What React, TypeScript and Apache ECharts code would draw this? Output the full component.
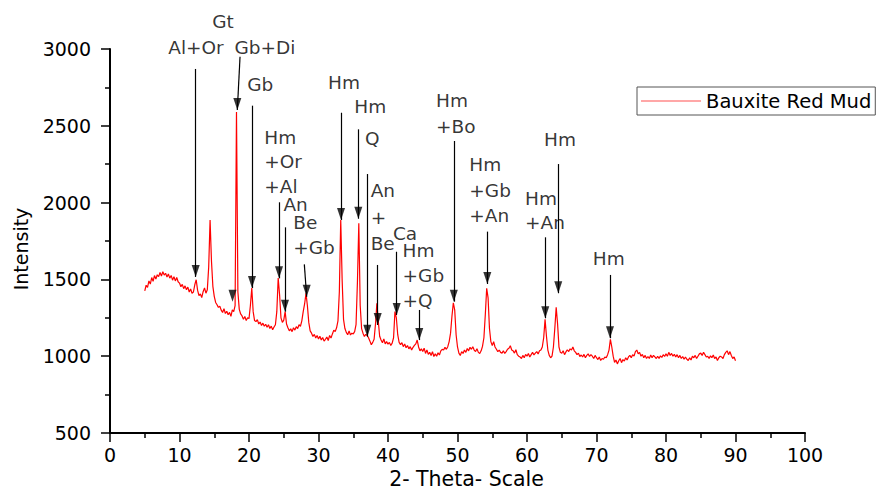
import React, { useEffect, useRef } from "react";
import * as echarts from "echarts";

// ---- data -----------------------------------------------------------
const seriesName = "Bauxite Red Mud";
const thetaStart = 5; // 2-theta of the first reading
const thetaStep = 0.2; // scan step
// one row per degree: readings at x.0, x.2, x.4, x.6, x.8
const intensityRows: number[][] = [
  [1425, 1462, 1448, 1490, 1470], // 5
  [1512, 1488, 1525, 1502, 1530], // 6
  [1518, 1545, 1522, 1550, 1528], // 7
  [1540, 1515, 1535, 1508, 1526], // 8
  [1495, 1518, 1490, 1512, 1485], // 9
  [1476, 1452, 1468, 1440, 1458], // 10
  [1432, 1450, 1418, 1438, 1410], // 11
  [1418, 1465, 1498, 1430, 1395], // 12
  [1405, 1382, 1420, 1445, 1410], // 13
  [1432, 1580, 1887, 1620, 1455], // 14
  [1390, 1350, 1335, 1318, 1325], // 15
  [1300, 1285, 1310, 1278, 1292], // 16
  [1270, 1285, 1260, 1302, 1290], // 17
  [1330, 2590, 1420, 1305, 1275], // 18
  [1262, 1240, 1258, 1232, 1250], // 19
  [1245, 1330, 1444, 1290, 1232], // 20
  [1225, 1238, 1210, 1222, 1200], // 21
  [1215, 1195, 1208, 1188, 1205], // 22
  [1180, 1196, 1172, 1190, 1205], // 23
  [1290, 1509, 1400, 1250, 1220], // 24
  [1235, 1290, 1210, 1185, 1165], // 25
  [1178, 1160, 1185, 1170, 1192], // 26
  [1180, 1205, 1195, 1230, 1290], // 27
  [1340, 1409, 1330, 1220, 1165], // 28
  [1150, 1128, 1142, 1118, 1135], // 29
  [1112, 1130, 1105, 1122, 1098], // 30
  [1110, 1125, 1102, 1135, 1118], // 31
  [1145, 1170, 1160, 1185, 1230], // 32
  [1420, 1887, 1500, 1240, 1180], // 33
  [1155, 1140, 1165, 1138, 1150], // 34
  [1145, 1160, 1205, 1480, 1865], // 35
  [1330, 1180, 1150, 1128, 1142], // 36
  [1135, 1120, 1098, 1075, 1090], // 37
  [1110, 1210, 1344, 1230, 1130], // 38
  [1105, 1088, 1112, 1080, 1095], // 39
  [1078, 1090, 1070, 1085, 1120], // 40
  [1290, 1250, 1140, 1090, 1075], // 41
  [1088, 1062, 1080, 1055, 1070], // 42
  [1048, 1062, 1040, 1058, 1070], // 43
  [1080, 1105, 1060, 1035, 1048], // 44
  [1030, 1052, 1018, 1040, 1012], // 45
  [1025, 1005, 1030, 998, 1015], // 46
  [1000, 1022, 1008, 1035, 1045], // 47
  [1040, 1058, 1045, 1062, 1095], // 48
  [1150, 1260, 1348, 1300, 1140], // 49
  [1060, 1020, 1005, 1030, 1018], // 50
  [1040, 1025, 1050, 1035, 1058], // 51
  [1045, 1062, 1040, 1030, 1048], // 52
  [1025, 1018, 1035, 1065, 1120], // 53
  [1270, 1442, 1380, 1180, 1095], // 54
  [1070, 1094, 1060, 1045, 1030], // 55
  [1040, 1025, 1020, 1035, 1018], // 56
  [1030, 1045, 1052, 1068, 1040], // 57
  [1035, 1020, 1042, 1010, 1000], // 58
  [995, 985, 1005, 990, 1012], // 59
  [1000, 1018, 995, 1010, 1025], // 60
  [1008, 1020, 1030, 1015, 1035], // 61
  [1040, 1060, 1120, 1240, 1130], // 62
  [1040, 1005, 990, 1000, 1060], // 63
  [1180, 1318, 1210, 1060, 1025], // 64
  [1019, 1035, 1010, 1028, 1042], // 65
  [1030, 1048, 1040, 1060, 1035], // 66
  [1025, 1010, 1020, 998, 1008], // 67
  [995, 1012, 990, 1005, 1015], // 68
  [998, 1010, 1000, 985, 1005], // 69
  [990, 978, 995, 972, 985], // 70
  [980, 995, 990, 1010, 1040], // 71
  [1110, 1060, 1000, 960, 975], // 72
  [950, 970, 985, 958, 978], // 73
  [968, 990, 975, 995, 1005], // 74
  [990, 1010, 1000, 1030, 1040], // 75
  [1015, 1025, 1000, 1012, 990], // 76
  [1005, 985, 998, 985, 1008], // 77
  [990, 1005, 995, 985, 1000], // 78
  [985, 1002, 992, 1010, 998], // 79
  [1015, 1000, 1025, 1005, 1018], // 80
  [1000, 1012, 995, 1010, 990], // 81
  [1005, 985, 998, 980, 995], // 82
  [980, 972, 990, 975, 1000], // 83
  [990, 1005, 985, 1000, 1015], // 84
  [1020, 1005, 1025, 1010, 995], // 85
  [1000, 985, 1002, 990, 1008], // 86
  [985, 995, 972, 990, 1000], // 87
  [995, 985, 1010, 1025, 1035], // 88
  [1010, 1030, 1005, 985, 995], // 89
  [970], // 90
];

// phase annotations: arrow start (top) and arrow tip, in [2theta, intensity]
const arrowStarts: [number, number][] = [
  [12.33, 2870], [17.63, 3124], [18.71, 2950], [20.43, 2631], [33.24, 2585],
  [35.73, 2477], [37.02, 2186], [24.32, 2002], [25.18, 1839], [27.96, 1598],
  [38.52, 1594], [41.25, 1680], [44.5, 1301], [49.47, 2401], [54.29, 1811],
  [62.63, 1774], [64.5, 2251], [71.94, 1529],
];
const arrowTips: [number, number][] = [
  [12.33, 1516], [17.63, 1355], [18.32, 2603], [20.43, 1444], [33.24, 1887],
  [35.73, 1895], [37.02, 1127], [24.32, 1507], [25.18, 1290], [28.3, 1387],
  [38.52, 1203], [41.25, 1268], [44.5, 1105], [49.47, 1355], [54.29, 1470],
  [62.63, 1247], [64.5, 1410], [71.94, 1117],
];
const phaseLabels: string[] = [
  "Al+Or", "Gt", "Gb+Di", "Gb", "Hm", "Hm", "Q", "Hm\n+Or\n+Al", "An",
  "Be\n+Gb", "An\n+\nBe", "Ca", "Hm\n+Gb\n+Q", "Hm\n+Bo", "Hm\n+Gb\n+An",
  "Hm\n+An", "Hm", "Hm",
];
const labelAnchors: [number, number][] = [
  [12.37, 3013], [16.26, 3179], [22.3, 3010], [21.63, 2772], [33.67, 2779],
  [37.45, 2626], [37.74, 2415], [22.2, 2266], [26.7, 1985], [26.37, 1786],
  [37.5, 1905], [42.45, 1796], [42.1, 1525], [46.91, 2583], [51.7, 2082],
  [59.71, 1950], [64.75, 2410], [71.76, 1639],
];
const labelAligns: string[] = [
  "center", "center", "center", "center", "center", "center", "center", "left",
  "center", "left", "left", "center", "left", "left", "left", "left", "center",
  "center",
];
const labelLineHeights: number[] = [
  20, 20, 20, 20, 20, 20, 20, 24.5, 20, 25, 26.5, 20, 25, 26, 25.5, 24.5, 20, 20,
];

// axes
const xMin = 0, xMax = 100, xInterval = 10;
const yMin = 500, yMax = 3000, yInterval = 500;
const xName = "2- Theta- Scale";
const yName = "Intensity";

const FONT = "DejaVu Sans";

export default function App() {
  const ref = useRef<HTMLDivElement>(null);

  useEffect(() => {
    if (!ref.current) return;
    const chart = echarts.init(ref.current, undefined, { renderer: "svg" });

    const intensities = intensityRows.flat();
    const lineData = intensities.map((v, i) => [
      Math.round((thetaStart + i * thetaStep) * 10) / 10,
      v,
    ]);

    const labelData = phaseLabels.map((t, i) => ({
      value: labelAnchors[i],
      label: {
        formatter: t,
        align: labelAligns[i],
        lineHeight: labelLineHeights[i],
      },
    }));

    const axisCommon = {
      type: "value" as const,
      splitLine: { show: false },
      axisLine: { show: true, onZero: false, lineStyle: { color: "#000", width: 2 } },
      axisTick: { show: true, inside: false, length: 9, lineStyle: { color: "#000", width: 1.5 } },
      minorTick: { show: true, splitNumber: 2, length: 5, lineStyle: { color: "#000", width: 1.5 } },
    };

    chart.setOption({
      animation: false,
      backgroundColor: "#fff",
      grid: {
        left: 110,
        right: 72,
        top: 49,
        bottom: 54,
        containLabel: false,
        outerBoundsMode: "none",
      },
      legend: {
        data: [seriesName],
        left: 637,
        top: 87,
        padding: [4, 4, 4, 4],
        itemWidth: 60,
        itemHeight: 18,
        icon: "path://M0,0L60,0L60,1.2L0,1.2Z",
        symbolKeepAspect: true,
        itemStyle: { color: "#ff5050" },
        borderColor: "#555",
        borderWidth: 1,
        textStyle: { fontFamily: FONT, fontSize: 19.5, color: "#000" },
      },
      xAxis: {
        ...axisCommon,
        min: xMin,
        max: xMax,
        interval: xInterval,
        axisLabel: {
          color: "#000",
          fontFamily: FONT,
          fontSize: 19,
          margin: 12,
          formatter: (v: number) => String(v),
        },
        name: xName,
        nameLocation: "middle",
        nameGap: 30,
        nameTextStyle: {
          color: "#000",
          fontFamily: FONT,
          fontSize: 20.5,
          lineHeight: 20,
          padding: [0, 0, 0, 18],
        },
      },
      yAxis: {
        ...axisCommon,
        min: yMin,
        max: yMax,
        interval: yInterval,
        axisLabel: {
          color: "#000",
          fontFamily: FONT,
          fontSize: 19,
          margin: 19,
          formatter: (v: number) => String(v),
        },
        name: yName,
        nameLocation: "middle",
        nameRotate: 90,
        nameGap: 80,
        nameTextStyle: { color: "#000", fontFamily: FONT, fontSize: 19, padding: [0, 16, 0, 0] },
      },
      series: [
        {
          name: seriesName,
          type: "line",
          data: lineData,
          symbol: "none",
          showSymbol: false,
          clip: false,
          lineStyle: { color: "#ff0000", width: 1.2 },
          itemStyle: { color: "#ff0000" },
          silent: true,
        },
        {
          name: "arrows",
          type: "scatter",
          data: arrowTips,
          symbol: "triangle",
          symbolSize: [8, 12],
          symbolRotate: 180,
          symbolOffset: [0, "-50%"],
          itemStyle: { color: "#000" },
          clip: false,
          silent: true,
          z: 5,
          markLine: {
            silent: true,
            symbol: ["none", "none"],
            lineStyle: { color: "#000", width: 1.2, type: "solid" },
            label: { show: false },
            emphasis: { disabled: true },
            data: arrowStarts.map((s, i) => [{ coord: s }, { coord: arrowTips[i] }]),
          },
        },
        {
          name: "labels",
          type: "scatter",
          data: labelData,
          symbolSize: 1,
          itemStyle: { color: "rgba(0,0,0,0)" },
          clip: false,
          silent: true,
          z: 6,
          label: {
            show: true,
            position: "inside",
            verticalAlign: "middle",
            color: "#000",
            fontFamily: FONT,
            fontSize: 18.5,
          },
        },
      ],
    });

    return () => chart.dispose();
  }, []);

  return (
    <div
      ref={ref}
      style={{ position: "absolute", left: 0, top: 0, width: 877, height: 487, background: "#fff" }}
    />
  );
}
